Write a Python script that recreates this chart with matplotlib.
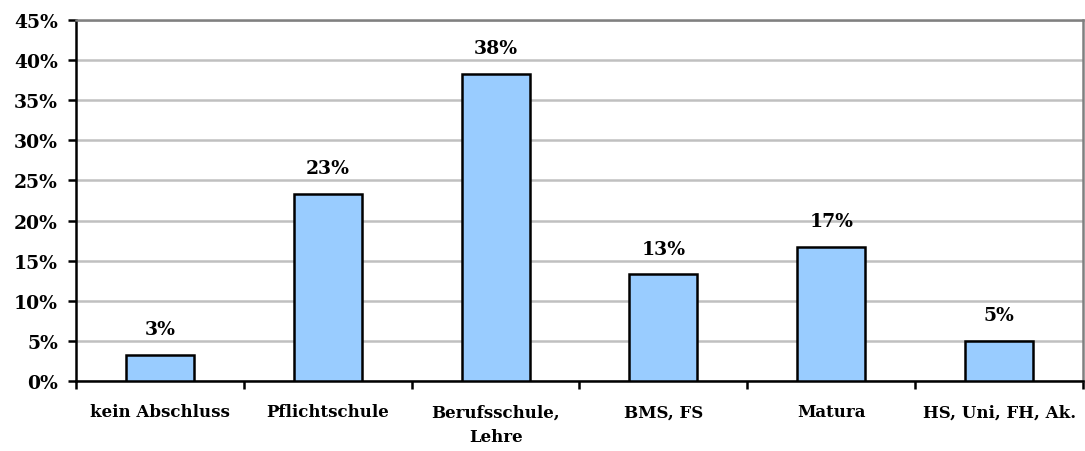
import matplotlib
matplotlib.use("Agg")
import matplotlib.pyplot as plt
from matplotlib.ticker import MultipleLocator, FuncFormatter, FixedLocator

categories = ["kein Abschluss", "Pflichtschule", "Berufsschule,\nLehre",
              "BMS, FS", "Matura", "HS, Uni, FH, Ak."]
shares = [3.3, 23.3, 38.3, 13.3, 16.7, 5.0]
labels = ["3%", "23%", "38%", "13%", "17%", "5%"]

plt.rcParams["font.family"] = ["DejaVu Serif"]
plt.rcParams["font.weight"] = "bold"

fig = plt.figure(figsize=(10.85, 4.52), dpi=100)
ax = fig.add_axes([76 / 1085, 1 - 382 / 452, (1083 - 76) / 1085, (382 - 21) / 452])

x = list(range(len(categories)))
ax.bar(x, shares, width=0.405, color="#99CCFF", edgecolor="black",
       linewidth=1.8, zorder=3)

for xi, v, lab in zip(x, shares, labels):
    ax.annotate(lab, (xi, v), xytext=(0, 12), textcoords="offset points",
                ha="center", va="bottom", fontsize=13.5, fontweight="bold")

ax.set_xlim(-0.5, len(categories) - 0.5)
ax.set_ylim(0, 45)
ax.yaxis.set_major_locator(MultipleLocator(5))
ax.yaxis.set_major_formatter(FuncFormatter(lambda v, p: f"{v:.0f}%"))
ax.grid(axis="y", color="#c0c0c0", linewidth=1.8, zorder=0)

ax.set_xticks(x)
ax.set_xticklabels(categories, fontsize=12, fontweight="bold", linespacing=1.6)
ax.tick_params(axis="x", length=0, pad=16)
ax.xaxis.set_minor_locator(FixedLocator([i - 0.5 for i in range(len(categories) + 1)]))
ax.tick_params(axis="x", which="minor", length=6, width=1.8, direction="out")
ax.tick_params(axis="y", length=6, width=1.8, direction="out", labelsize=13.5, pad=7)
for lab in ax.get_yticklabels():
    lab.set_fontweight("bold")

for side in ("left", "bottom"):
    ax.spines[side].set_color("black")
    ax.spines[side].set_linewidth(1.8)
for side in ("top", "right"):
    ax.spines[side].set_color("#808080")
    ax.spines[side].set_linewidth(1.8)

fig.savefig("out.png", dpi=100)
